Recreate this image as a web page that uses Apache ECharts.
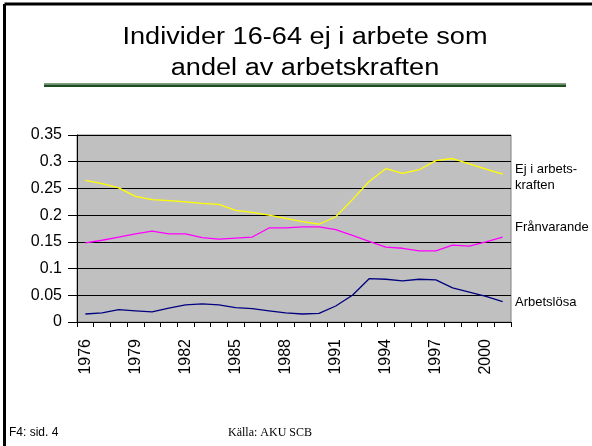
<!DOCTYPE html>
<html>
<head>
<meta charset="utf-8">
<script src="https://cdn.jsdelivr.net/npm/echarts@6/dist/echarts.min.js"></script>
<style>
  html, body {margin: 0; padding: 0; background: #fff;}
  #chart {width: 592px; height: 446px;}
</style>
</head>
<body>
<div id="chart"></div>
<script>
var years = ['1976', '1977', '1978', '1979', '1980', '1981', '1982', '1983', '1984',
    '1985', '1986', '1987', '1988', '1989', '1990', '1991', '1992', '1993', '1994',
    '1995', '1996', '1997', '1998', '1999', '2000', '2001'];

var ejIArbetskraften = [0.265, 0.259, 0.251, 0.235, 0.229, 0.227, 0.225, 0.222, 0.220,
    0.209, 0.205, 0.200, 0.194, 0.188, 0.183, 0.197, 0.229, 0.263, 0.287,
    0.278, 0.285, 0.302, 0.306, 0.296, 0.286, 0.277];

var franvarande = [0.148, 0.153, 0.159, 0.165, 0.170, 0.165, 0.165, 0.158, 0.155,
    0.157, 0.159, 0.176, 0.176, 0.178, 0.178, 0.173, 0.162, 0.151, 0.140,
    0.138, 0.133, 0.133, 0.144, 0.142, 0.150, 0.159];

var arbetslosa = [0.015, 0.017, 0.023, 0.021, 0.019, 0.026, 0.032, 0.034, 0.032,
    0.027, 0.025, 0.021, 0.017, 0.015, 0.016, 0.030, 0.050, 0.081, 0.080,
    0.077, 0.080, 0.079, 0.064, 0.056, 0.048, 0.038];

var seriesNames = ['Ej i arbets-\nkraften', 'Frånvarande', 'Arbetslösa'];
var titleLines = ['Individer 16-64 ej i arbete som', 'andel av arbetskraften'];

var font = '"Liberation Sans", Arial, sans-serif';

var myChart = echarts.init(document.getElementById('chart'));
myChart.setOption({
    animation: false,
    backgroundColor: '#fff',
    textStyle: {fontFamily: font},
    grid: {
        left: 77,
        right: 81,
        top: 135,
        bottom: 124,
        show: true,
        backgroundColor: '#c0c0c0',
        borderColor: '#808080',
        borderWidth: 1
    },
    xAxis: {
        type: 'category',
        data: years,
        boundaryGap: true,
        axisLine: {lineStyle: {color: '#000', width: 1}},
        axisTick: {show: true, interval: 0, length: 5, lineStyle: {color: '#000'}},
        axisLabel: {
            interval: 2,
            rotate: 90,
            margin: 17,
            fontSize: 16,
            color: '#000',
            fontFamily: font,
            padding: [0, 0, 10, 0]
        },
        splitLine: {show: false}
    },
    yAxis: {
        type: 'value',
        min: 0,
        max: 0.35,
        interval: 0.05,
        axisLine: {show: true, lineStyle: {color: '#000', width: 1}},
        axisTick: {show: true, length: 9, lineStyle: {color: '#000'}},
        axisLabel: {
            margin: 15,
            fontSize: 16,
            color: '#000',
            fontFamily: font,
            padding: [5, 0, 0, 0]
        },
        splitLine: {show: true, lineStyle: {color: '#000', width: 1}}
    },
    series: [{
        name: seriesNames[0],
        type: 'line',
        data: ejIArbetskraften,
        symbol: 'none',
        lineStyle: {color: '#ffff00', width: 1.3},
        itemStyle: {color: '#ffff00'}
    }, {
        name: seriesNames[1],
        type: 'line',
        data: franvarande,
        symbol: 'none',
        lineStyle: {color: '#ff00ff', width: 1.3},
        itemStyle: {color: '#ff00ff'}
    }, {
        name: seriesNames[2],
        type: 'line',
        data: arbetslosa,
        symbol: 'none',
        lineStyle: {color: '#000080', width: 1.3},
        itemStyle: {color: '#000080'}
    }],
    graphic: [
        // slide frame
        {type: 'line', shape: {x1: 4.5, y1: 4, x2: 592, y2: 4}, style: {stroke: '#000', lineWidth: 3}},
        {type: 'line', shape: {x1: 4.5, y1: 4, x2: 4.5, y2: 446}, style: {stroke: '#000', lineWidth: 3}},
        // title
        {
            type: 'text', x: 305, y: 22, scaleX: 1.18,
            style: {
                text: titleLines.join('\n'),
                font: '23px ' + font,
                textAlign: 'center',
                textVerticalAlign: 'top',
                lineHeight: 31,
                fill: '#000'
            }
        },
        // title underline
        {type: 'rect', shape: {x: 44, y: 83, width: 522, height: 1.5}, style: {fill: '#7f9f7f'}},
        {type: 'rect', shape: {x: 44, y: 84.5, width: 522, height: 2.5}, style: {fill: '#1e4d1e'}},
        // series labels
        {type: 'text', x: 515, y: 177, style: {text: seriesNames[0], font: '13px ' + font, textVerticalAlign: 'middle', lineHeight: 16, fill: '#000'}},
        {type: 'text', x: 515, y: 227, style: {text: seriesNames[1], font: '13px ' + font, textVerticalAlign: 'middle', fill: '#000'}},
        {type: 'text', x: 515, y: 302, style: {text: seriesNames[2], font: '13px ' + font, textVerticalAlign: 'middle', fill: '#000'}},
        // footer
        {type: 'text', x: 9, y: 433, style: {text: 'F4: sid. 4', font: '12px ' + font, textVerticalAlign: 'middle', fill: '#000'}},
        {type: 'text', x: 228, y: 433, style: {text: 'Källa: AKU SCB', font: '12px "Liberation Serif", "Times New Roman", serif', textVerticalAlign: 'middle', fill: '#000'}}
    ]
});
</script>
</body>
</html>
